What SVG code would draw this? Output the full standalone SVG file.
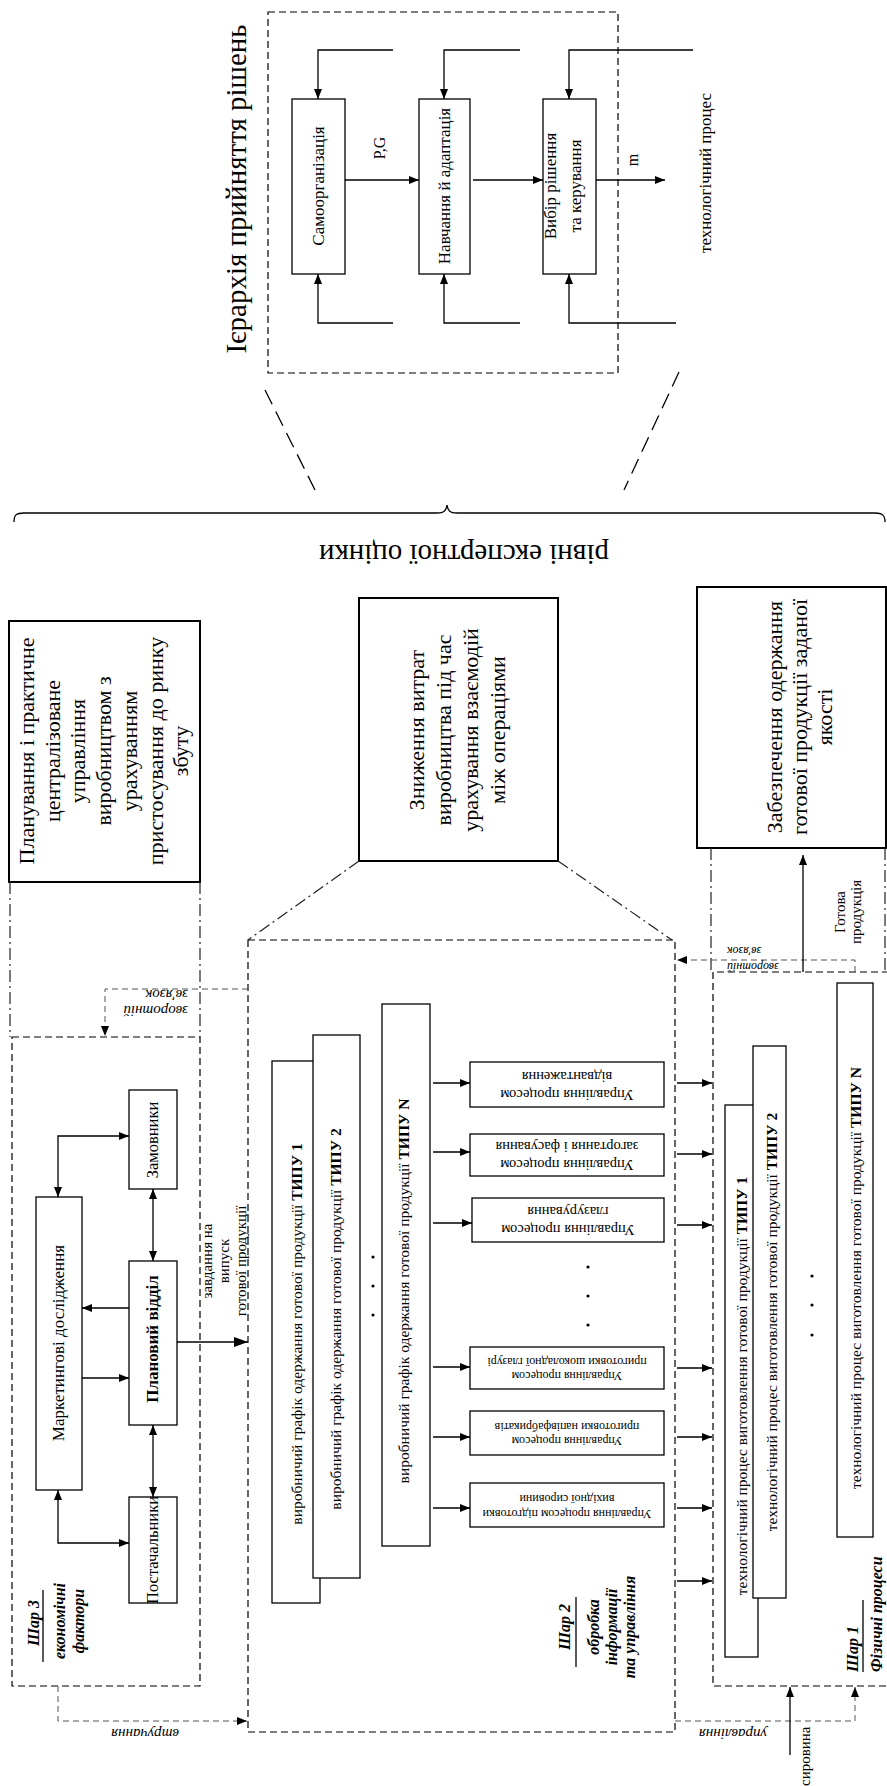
<svg xmlns="http://www.w3.org/2000/svg" width="887" height="1786" viewBox="0 0 887 1786" font-family="'Liberation Serif', 'Times New Roman', serif">
<defs>
<style>
text{font-family:'Liberation Serif','Times New Roman',serif;fill:#000}
.box{fill:#fff;stroke:#000;stroke-width:1.3}
.bx2{fill:#fff;stroke:#000;stroke-width:2}
.dsh{fill:none;stroke:#000;stroke-width:1.2;stroke-dasharray:7 4}
.fb{fill:none;stroke:#555;stroke-width:1;stroke-dasharray:6 4}
.dd{fill:none;stroke:#222;stroke-width:1.2;stroke-dasharray:12 4 2 4}
.ld{fill:none;stroke:#000;stroke-width:1.3;stroke-dasharray:16 8}
.ln{fill:none;stroke:#000;stroke-width:1.3}
.bi{font-weight:bold;font-style:italic}
.it{font-style:italic}
.b{font-weight:bold}
</style>
<marker id="a" markerUnits="userSpaceOnUse" markerWidth="11" markerHeight="9" refX="10" refY="4" orient="auto-start-reverse" overflow="visible"><path d="M0,0 L10,4 L0,8 z" fill="#000"/></marker>
<marker id="A" markerUnits="userSpaceOnUse" markerWidth="15" markerHeight="11" refX="14" refY="5" orient="auto" overflow="visible"><path d="M0,0 L14,5 L0,10 z" fill="#000"/></marker>
</defs>
<rect width="887" height="1786" fill="#fff"/>

<!-- Hierarchy -->
<g id="n-hier">
<rect class="dsh" x="268" y="12" width="350" height="361"/>
<text transform="translate(246,189) rotate(-90)" font-size="29" text-anchor="middle">Ієрархія прийняття рішень</text>
</g>
<g id="n-self"><rect class="box" x="292" y="99" width="53" height="175"/>
<text transform="translate(324,186) rotate(-90)" font-size="17" text-anchor="middle">Самоорганізація</text></g>
<g id="n-learn"><rect class="box" x="419" y="99" width="51" height="175"/>
<text transform="translate(450,186) rotate(-90)" font-size="17" text-anchor="middle">Навчання й адаптація</text></g>
<g id="n-choice"><rect class="box" x="543" y="99" width="53" height="175"/>
<text transform="translate(556,186) rotate(-90)" font-size="17" text-anchor="middle"><tspan x="0" y="0">Вибір рішення</tspan><tspan x="0" y="25">та керування</tspan></text></g>
<g id="n-techproc"><text transform="translate(711,173) rotate(-90)" font-size="17" text-anchor="middle">технологічний процес</text></g>

<!-- Expert levels -->
<g id="n-expert">
<path class="ln" stroke-width="1.6" d="M14,522 C14,515 16,513 24,513 L437,513 C444,513 446,511 447,505 C448,511 450,513 457,513 L875,513 C882,513 885,515 885,522"/>
<text transform="translate(464,545) rotate(180)" font-size="29" text-anchor="middle">рівні експертної оцінки</text>
</g>

<g id="n-plan"><rect class="bx2" x="9" y="621" width="191" height="261"/>
<text transform="translate(34,751) rotate(-90)" font-size="22" text-anchor="middle"><tspan x="0" y="0">Планування і практичне</tspan><tspan x="0" y="25.7">централізоване</tspan><tspan x="0" y="51.4">управління</tspan><tspan x="0" y="77.1">виробництвом з</tspan><tspan x="0" y="102.8">урахуванням</tspan><tspan x="0" y="128.5">пристосування до ринку</tspan><tspan x="0" y="154.2">збуту</tspan></text></g>

<g id="n-reduce"><rect class="bx2" x="359" y="598" width="199" height="263"/>
<text transform="translate(424,730) rotate(-90)" font-size="22" text-anchor="middle"><tspan x="0" y="0">Зниження витрат</tspan><tspan x="0" y="27">виробництва під час</tspan><tspan x="0" y="54">урахування взаємодій</tspan><tspan x="0" y="81">між операціями</tspan></text></g>

<g id="n-ensure"><rect class="bx2" x="697" y="587" width="189" height="261"/>
<text transform="translate(782,717) rotate(-90)" font-size="22" text-anchor="middle"><tspan x="0" y="0">Забезпечення одержання</tspan><tspan x="0" y="25">готової продукції заданої</tspan><tspan x="0" y="50">якості</tspan></text></g>

<!-- Layer 3 -->
<g id="n-layer3"><rect class="dsh" x="12" y="1037" width="188" height="649"/>
<text transform="translate(39,1623) rotate(-90)" font-size="16" class="bi" text-anchor="middle">Шар 3</text>
<line class="ln" x1="43" y1="1590" x2="43" y2="1662"/>
<text transform="translate(65,1621) rotate(-90)" font-size="16" class="bi" text-anchor="middle"><tspan x="0" y="0">економічні</tspan><tspan x="0" y="19">фактори</tspan></text></g>
<g id="n-zam"><rect class="box" x="129" y="1090" width="48" height="99"/>
<text transform="translate(158,1140) rotate(-90)" font-size="16.5" text-anchor="middle">Замовники</text></g>
<g id="n-mark"><rect class="box" x="36" y="1197" width="46" height="293"/>
<text transform="translate(64,1343) rotate(-90)" font-size="17" text-anchor="middle">Маркетингові дослідження</text></g>
<g id="n-plvid"><rect class="box" x="129" y="1261" width="48" height="164" stroke-width="3"/>
<text transform="translate(158,1339) rotate(-90)" font-size="17" class="b" text-anchor="middle">Плановий відділ</text></g>
<g id="n-post"><rect class="box" x="129" y="1497" width="48" height="106"/>
<text transform="translate(158,1550) rotate(-90)" font-size="16.5" text-anchor="middle">Постачальники</text></g>
<g id="n-task"><text transform="translate(212,1261) rotate(-90)" font-size="15" text-anchor="middle"><tspan x="0" y="0">завдання на</tspan><tspan x="0" y="17">випуск</tspan><tspan x="0" y="34">готової продукції</tspan></text></g>

<!-- Layer 2 -->
<g id="n-layer2"><rect class="dsh" x="248" y="940" width="427" height="792"/>
<text transform="translate(570,1627) rotate(-90)" font-size="16" class="bi" text-anchor="middle">Шар 2</text>
<line class="ln" x1="576" y1="1597" x2="576" y2="1667"/>
<text transform="translate(599,1627) rotate(-90)" font-size="16" class="bi" text-anchor="middle"><tspan x="0" y="0">обробка</tspan><tspan x="0" y="17.5">інформації</tspan><tspan x="0" y="36">та управління</tspan></text></g>
<g id="n-g1"><rect class="box" x="272" y="1061" width="48" height="542"/>
<text transform="translate(302,1334) rotate(-90)" font-size="15.5" text-anchor="middle">виробничий графік одержання готової продукції <tspan class="b">ТИПУ 1</tspan></text></g>
<g id="n-g2"><rect class="box" x="313" y="1035" width="47" height="543"/>
<text transform="translate(341,1319) rotate(-90)" font-size="15.5" text-anchor="middle">виробничий графік одержання готової продукції <tspan class="b">ТИПУ 2</tspan></text></g>
<g id="n-gN"><rect class="box" x="382" y="1004" width="48" height="542"/>
<text transform="translate(409,1291) rotate(-90)" font-size="15.5" text-anchor="middle">виробничий графік одержання готової продукції <tspan class="b">ТИПУ N</tspan></text></g>
<g id="n-gdots"><circle cx="373" cy="1257" r="1.6"/><circle cx="373" cy="1286" r="1.6"/><circle cx="373" cy="1315" r="1.6"/></g>

<g id="n-c1"><rect class="box" x="470" y="1062" width="194" height="45"/>
<text transform="translate(567,1090) rotate(180)" font-size="14.5" text-anchor="middle"><tspan x="0" y="0">Управління процесом</tspan><tspan x="0" y="18">відвантаження</tspan></text></g>
<g id="n-c2"><rect class="box" x="470" y="1134" width="194" height="42"/>
<text transform="translate(567,1160) rotate(180)" font-size="14.5" text-anchor="middle"><tspan x="0" y="0">Управління процесом</tspan><tspan x="0" y="18">загортання і фасування</tspan></text></g>
<g id="n-c3"><rect class="box" x="472" y="1198" width="192" height="44"/>
<text transform="translate(568,1225) rotate(180)" font-size="14.5" text-anchor="middle"><tspan x="0" y="0">Управління процесом</tspan><tspan x="0" y="18">глазурування</tspan></text></g>
<g id="n-cdots"><circle cx="588" cy="1267" r="1.6"/><circle cx="588" cy="1296" r="1.6"/><circle cx="588" cy="1325" r="1.6"/></g>
<g id="n-c4"><rect class="box" x="470" y="1347" width="194" height="42"/>
<text transform="translate(567,1372) rotate(180)" font-size="12" text-anchor="middle"><tspan x="0" y="0">Управління процесом</tspan><tspan x="0" y="14.5">приготовки шоколадної глазурі</tspan></text></g>
<g id="n-c5"><rect class="box" x="470" y="1411" width="194" height="44"/>
<text transform="translate(567,1437) rotate(180)" font-size="12" text-anchor="middle"><tspan x="0" y="0">Управління процесом</tspan><tspan x="0" y="14.5">приготовки напівфабрикатів</tspan></text></g>
<g id="n-c6"><rect class="box" x="470" y="1483" width="194" height="44"/>
<text transform="translate(567,1510) rotate(180)" font-size="12" text-anchor="middle"><tspan x="0" y="0">Управління процесом підготовки</tspan><tspan x="0" y="15">вихідної сировини</tspan></text></g>

<!-- Layer 1 -->
<g id="n-layer1"><path class="dsh" d="M900,972 L713,972 L713,1686 L900,1686"/>
<text transform="translate(858,1672) rotate(-90)" font-size="16" class="bi">Шар 1</text>
<line class="ln" x1="863" y1="1600" x2="863" y2="1672"/>
<text transform="translate(882,1672) rotate(-90)" font-size="16" class="bi">Фізичні процеси</text></g>
<g id="n-t1"><rect class="box" x="725" y="1105" width="33" height="552"/>
<text transform="translate(747,1386) rotate(-90)" font-size="15.5" text-anchor="middle">технологічний процес виготовлення готової продукції <tspan class="b">ТИПУ 1</tspan></text></g>
<g id="n-t2"><rect class="box" x="753" y="1046" width="33" height="552"/>
<text transform="translate(777,1322) rotate(-90)" font-size="15.5" text-anchor="middle">технологічний процес виготовлення готової продукції <tspan class="b">ТИПУ 2</tspan></text></g>
<g id="n-tN"><rect class="box" x="837" y="983" width="36" height="554"/>
<text transform="translate(861,1278) rotate(-90)" font-size="15.5" text-anchor="middle">технологічний процес виготовлення готової продукції <tspan class="b">ТИПУ N</tspan></text></g>
<g id="n-tdots"><circle cx="812" cy="1276" r="1.6"/><circle cx="812" cy="1305" r="1.6"/><circle cx="812" cy="1335" r="1.6"/></g>

<!-- Labels -->
<g id="n-labels">
<text transform="translate(385,148) rotate(-90)" font-size="16" text-anchor="middle">P,G</text>
<text transform="translate(638,160) rotate(-90)" font-size="16" text-anchor="middle">m</text>
<text transform="translate(845,912) rotate(-90)" font-size="15" text-anchor="middle"><tspan x="0" y="0">Готова</tspan><tspan x="0" y="16">продукція</tspan></text>
<text transform="translate(188,1006) rotate(180)" font-size="15" class="it"><tspan x="0" y="0">зворотній</tspan><tspan x="0" y="16">зв'язок</tspan></text>
<text transform="translate(727,963) rotate(180)" font-size="12" class="it" text-anchor="end"><tspan x="0" y="0">зворотній</tspan><tspan x="0" y="16">зв'язок</tspan></text>
<text transform="translate(145,1729) rotate(180)" font-size="15" class="it" text-anchor="middle">втручання</text>
<text transform="translate(733,1729) rotate(180)" font-size="15" class="it" text-anchor="middle">управління</text>
<text transform="translate(810,1786) rotate(-90)" font-size="15">сировина</text>
</g>

<!-- Connectors -->
<g id="connectors">
<polyline class="ln" points="393,50 318,50 318,99" marker-end="url(#a)"/>
<polyline class="ln" points="520,50 444,50 444,99" marker-end="url(#a)"/>
<polyline class="ln" points="693,50 569,50 569,99" marker-end="url(#a)"/>
<polyline class="ln" points="393,323 318,323 318,274" marker-end="url(#a)"/>
<polyline class="ln" points="520,323 444,323 444,274" marker-end="url(#a)"/>
<polyline class="ln" points="676,323 569,323 569,274" marker-end="url(#a)"/>
<line class="ln" x1="345" y1="180" x2="419" y2="180" marker-end="url(#a)"/>
<line class="ln" x1="473" y1="180" x2="543" y2="180" marker-end="url(#a)"/>
<line class="ln" x1="596" y1="180" x2="665" y2="180" marker-end="url(#a)"/>

<line class="ld" x1="265" y1="390" x2="315" y2="490"/>
<line class="ld" x1="679" y1="372" x2="624" y2="490"/>

<line class="dd" x1="10" y1="882" x2="10" y2="1037"/>
<line class="dd" x1="200" y1="882" x2="200" y2="1037"/>
<line class="dd" x1="359" y1="861" x2="248" y2="940"/>
<line class="dd" x1="558" y1="861" x2="672" y2="940"/>
<line class="dd" x1="711" y1="848" x2="711" y2="972"/>
<line class="dd" x1="885" y1="848" x2="885" y2="972"/>

<line class="ln" x1="153" y1="1189" x2="153" y2="1261" marker-start="url(#a)" marker-end="url(#a)"/>
<line class="ln" x1="153" y1="1425" x2="153" y2="1497" marker-start="url(#a)" marker-end="url(#a)"/>
<polyline class="ln" points="129,1136 58,1136 58,1197" marker-start="url(#a)" marker-end="url(#a)"/>
<polyline class="ln" points="58,1490 58,1543 129,1543" marker-start="url(#a)" marker-end="url(#a)"/>
<line class="ln" x1="129" y1="1308" x2="82" y2="1308" marker-end="url(#a)"/>
<line class="ln" x1="82" y1="1378" x2="129" y2="1378" marker-end="url(#a)"/>
<line class="ln" stroke-width="3" x1="177" y1="1342" x2="248" y2="1342" marker-end="url(#A)"/>

<line class="ln" x1="433" y1="1083" x2="470" y2="1083" marker-end="url(#a)"/>
<line class="ln" x1="433" y1="1152" x2="470" y2="1152" marker-end="url(#a)"/>
<line class="ln" x1="433" y1="1223" x2="472" y2="1223" marker-end="url(#a)"/>
<line class="ln" x1="433" y1="1367" x2="470" y2="1367" marker-end="url(#a)"/>
<line class="ln" x1="433" y1="1437" x2="470" y2="1437" marker-end="url(#a)"/>
<line class="ln" x1="433" y1="1508" x2="470" y2="1508" marker-end="url(#a)"/>

<line class="ln" x1="677" y1="1083" x2="712" y2="1083" marker-end="url(#a)"/>
<line class="ln" x1="677" y1="1154" x2="712" y2="1154" marker-end="url(#a)"/>
<line class="ln" x1="677" y1="1225" x2="712" y2="1225" marker-end="url(#a)"/>
<line class="ln" x1="677" y1="1368" x2="712" y2="1368" marker-end="url(#a)"/>
<line class="ln" x1="677" y1="1437" x2="712" y2="1437" marker-end="url(#a)"/>
<line class="ln" x1="677" y1="1508" x2="712" y2="1508" marker-end="url(#a)"/>
<line class="ln" x1="677" y1="1581" x2="712" y2="1581" marker-end="url(#a)"/>

<polyline class="fb" points="248,989 105,989 105,1036" marker-end="url(#a)"/>
<polyline class="fb" points="855,972 855,960 677,960" marker-end="url(#a)"/>
<polyline class="fb" points="58,1686 58,1721 247,1721" marker-end="url(#a)"/>
<polyline class="fb" points="675,1721 855,1721 855,1687" marker-end="url(#a)"/>
<line class="ln" x1="803" y1="972" x2="803" y2="855" marker-end="url(#a)"/>
<line class="ln" x1="790" y1="1755" x2="790" y2="1687" marker-end="url(#a)"/>
</g>
</svg>
